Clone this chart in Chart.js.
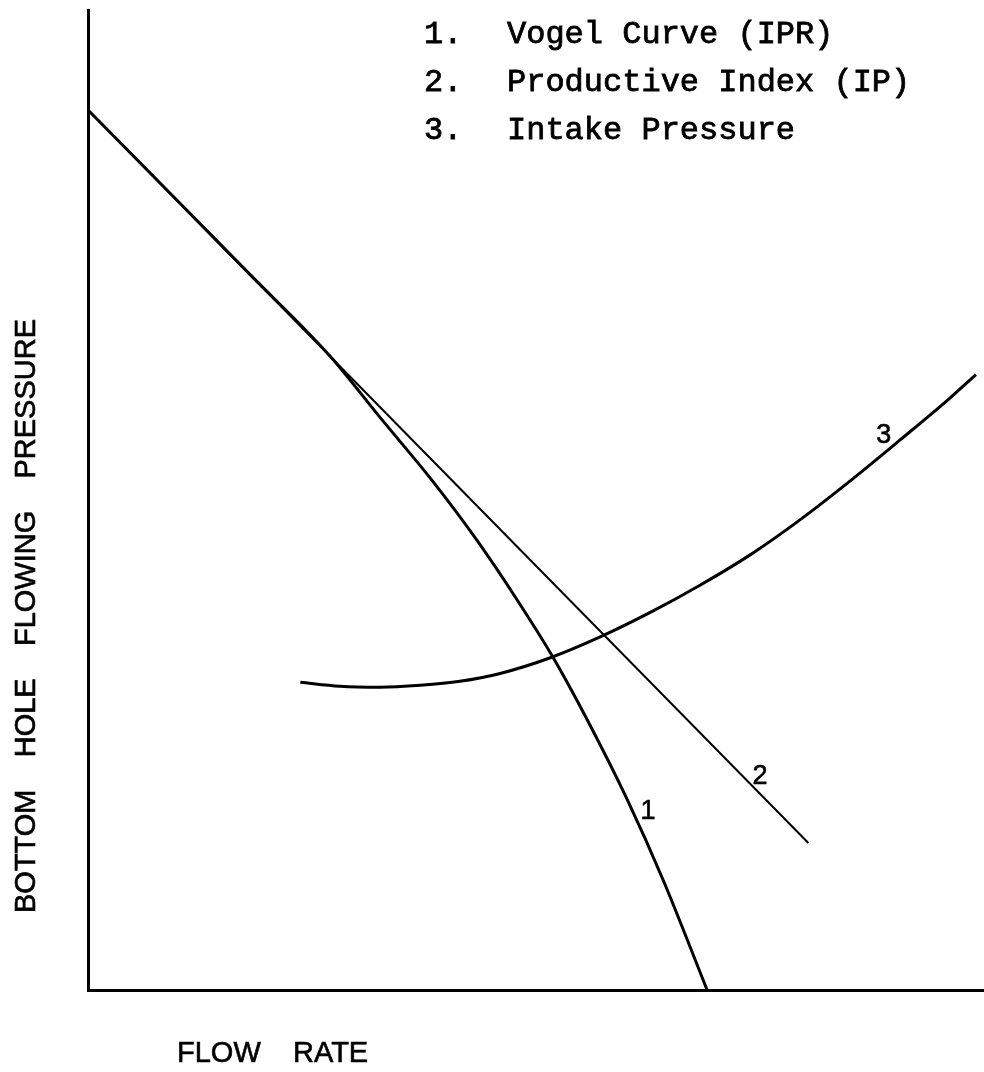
<!DOCTYPE html>
<html>
<head>
<meta charset="utf-8">
<script src="https://cdn.jsdelivr.net/npm/chart.js@4.4.1/dist/chart.umd.min.js"></script>
<style>
  html, body { margin: 0; padding: 0; background: #ffffff; }
  #wrap { position: relative; width: 984px; height: 1072px; }
</style>
</head>
<body>
<div id="wrap"><canvas id="c" width="984" height="1072"></canvas></div>
<script>
// Flow rate (arbitrary units, 0-100) and bottom hole flowing pressure (arbitrary units, 0-100)
const vogelFlow     = [0, 18.1, 27.0, 32.8, 38.4, 43.4, 47.9, 51.8, 55.7, 60.2, 64.2, 69.1];
const vogelPressure = [89.8, 73.0, 64.7, 58.2, 52.0, 45.9, 39.8, 34.1, 27.6, 19.4, 11.2, 0];

const ipFlow     = [0, 80.4];
const ipPressure = [89.8, 15.0];

const intakeFlow     = [23.7, 28.1, 32.6, 37.1, 41.5, 46.0, 51.6, 57.1, 62.7, 68.3, 73.9, 79.5, 85.0, 90.6, 96.2, 99.1];
const intakePressure = [31.4, 31.0, 30.9, 31.1, 31.5, 32.3, 33.9, 36.0, 38.5, 41.3, 44.4, 48.0, 51.9, 56.1, 60.4, 62.8];

const legendItems = ['1.', '2.', '3.'];
const legendNames = ['Vogel Curve (IPR)', 'Productive Index (IP)', 'Intake Pressure'];
const curveTags = ['1', '2', '3'];
// where each curve number sits, in data units (flow, pressure)
const tagFlow     = [62.5, 75.0, 88.8];
const tagPressure = [18.2, 21.8, 56.6];

const xTitle = 'FLOW    RATE';
const yTitle = 'BOTTOM    HOLE    FLOWING    PRESSURE';

function pts(xs, ys) { return xs.map((x, i) => ({ x: x, y: ys[i] })); }

const textPlugin = {
  id: 'texts',
  afterDraw(chart) {
    const ctx = chart.ctx;
    const xs = chart.scales.x, ys = chart.scales.y;
    ctx.save();
    ctx.fillStyle = '#000';
    ctx.strokeStyle = '#000';
    // legend (typewriter style)
    ctx.font = '32px "Liberation Mono", "DejaVu Sans Mono", monospace';
    ctx.textBaseline = 'alphabetic';
    ctx.textAlign = 'left';
    ctx.lineWidth = 0.8;
    const bases = [43, 91, 139];
    legendItems.forEach((t, i) => {
      ctx.fillText(t, 424, bases[i]);
      ctx.strokeText(t, 424, bases[i]);
      ctx.fillText(legendNames[i], 507, bases[i]);
      ctx.strokeText(legendNames[i], 507, bases[i]);
    });
    // curve numbers
    ctx.font = '27px "Liberation Sans", Arial, sans-serif';
    ctx.textAlign = 'center';
    ctx.textBaseline = 'middle';
    ctx.lineWidth = 0.6;
    curveTags.forEach((t, i) => {
      const px = xs.getPixelForValue(tagFlow[i]), py = ys.getPixelForValue(tagPressure[i]);
      ctx.fillText(t, px, py);
      ctx.strokeText(t, px, py);
    });
    // axis titles
    ctx.font = '29px "Liberation Sans", Arial, sans-serif';
    ctx.textAlign = 'left';
    ctx.textBaseline = 'alphabetic';
    ctx.fillText(xTitle, 177, 1062);
    ctx.strokeText(xTitle, 177, 1062);
    ctx.save();
    ctx.translate(35, 616);
    ctx.rotate(-Math.PI / 2);
    ctx.textAlign = 'center';
    ctx.fillText(yTitle, 0, 0);
    ctx.strokeText(yTitle, 0, 0);
    ctx.restore();
    ctx.restore();
  }
};

new Chart(document.getElementById('c'), {
  type: 'scatter',
  data: {
    datasets: [
      { label: 'Vogel Curve (IPR)', data: pts(vogelFlow, vogelPressure), showLine: true,
        borderColor: '#000', borderWidth: 3, pointRadius: 0, cubicInterpolationMode: 'monotone', clip: false },
      { label: 'Productive Index (IP)', data: pts(ipFlow, ipPressure), showLine: true,
        borderColor: '#000', borderWidth: 2, pointRadius: 0, clip: false },
      { label: 'Intake Pressure', data: pts(intakeFlow, intakePressure), showLine: true,
        borderColor: '#000', borderWidth: 3, pointRadius: 0, cubicInterpolationMode: 'monotone', clip: false }
    ]
  },
  options: {
    responsive: false,
    animation: false,
    devicePixelRatio: 1,
    layout: { padding: { left: 88, right: 0, top: 10, bottom: 82 } },
    plugins: { legend: { display: false }, tooltip: { enabled: false }, title: { display: false } },
    scales: {
      x: { type: 'linear', min: 0, max: 100,
           grid: { display: false, drawTicks: false },
           border: { display: true, color: '#000', width: 3 },
           ticks: { display: false }, title: { display: false } },
      y: { type: 'linear', min: 0, max: 100,
           grid: { display: false, drawTicks: false },
           border: { display: true, color: '#000', width: 3 },
           ticks: { display: false }, title: { display: false } }
    }
  },
  plugins: [textPlugin]
});
</script>
</body>
</html>
